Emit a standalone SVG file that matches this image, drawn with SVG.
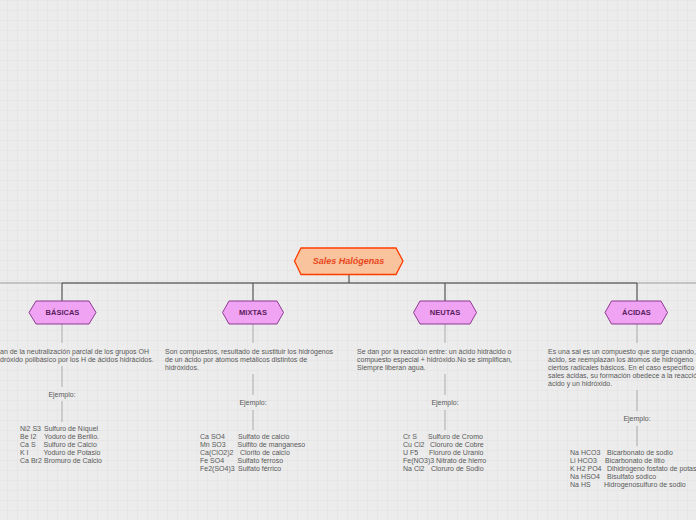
<svg xmlns="http://www.w3.org/2000/svg" width="696" height="520" viewBox="0 0 696 520">
<defs>
<pattern id="grid" width="10" height="10" patternUnits="userSpaceOnUse" x="7" y="0">
<path d="M0 0.5H10M0.5 0V10" fill="none" stroke="#e6e6e6" stroke-width="1"/>
</pattern>
<style>
.bg{fill:#ececec}
.main{fill:#f9c49d;stroke:#ff3c00;stroke-width:1.3}
.mainT{font-family:"Liberation Sans",Arial,sans-serif;font-size:9px;font-weight:bold;font-style:italic;fill:#e8461b;text-anchor:middle}
.br{fill:#f0a2f3;stroke:#8e3c91;stroke-width:1}
.brT{font-family:"Liberation Sans",Arial,sans-serif;font-size:7.5px;font-weight:bold;fill:#5a1c5c;text-anchor:middle}
.t{font-family:"Liberation Sans",Arial,sans-serif;font-size:7px;fill:#595959}
.c{text-anchor:middle}
.lk{stroke:#555;stroke-width:1.2;fill:none}
.lk2{stroke:#999;stroke-width:1.2;fill:none}
.sub{stroke:#aaa;stroke-width:1;fill:none}
</style>
</defs>
<rect class="bg" width="696" height="520"/>
<rect fill="url(#grid)" width="696" height="520"/>

<g id="connectors">
<path class="lk2" d="M0 283H696"/>
<path class="lk" d="M62 283H637M349 275V283M62 283V301M253 283V301M445 283V301M637 283V301"/>
<path class="sub" d="M62 324V343M62 366V387M62 401V422"/>
<path class="sub" d="M253 324V343M253 374V395M253 410V430"/>
<path class="sub" d="M445 324V343M445 374V395M445 410V430"/>
<path class="sub" d="M637 324V343M637 390V411M637 426V446"/>
</g>

<g id="node-sales-halogenas">
<polygon class="main" points="294.5,261 301,248 396,248 403,261 396,274.5 301,274.5"/>
<text class="mainT" x="348.5" y="264.3">Sales Halógenas</text>
</g>

<g id="node-basicas">
<polygon class="br" points="29,312.5 36,301 89,301 96,312.5 89,324 36,324"/>
<text class="brT" x="62.5" y="315.2">BÁSICAS</text>
</g>
<g id="node-mixtas">
<polygon class="br" points="222.5,312.5 229,301 277,301 283.5,312.5 277,324 229,324"/>
<text class="brT" x="253" y="315.2">MIXTAS</text>
</g>
<g id="node-neutas">
<polygon class="br" points="413.5,312.5 420,301 470,301 476.5,312.5 470,324 420,324"/>
<text class="brT" x="445" y="315.2">NEUTAS</text>
</g>
<g id="node-acidas">
<polygon class="br" points="605,312.5 611.5,301 661,301 667.5,312.5 661,324 611.5,324"/>
<text class="brT" x="636.5" y="315.2">ÁCIDAS</text>
</g>

<g id="desc-basicas" class="t">
<text x="0" y="353.5">an de la neutralización parcial de los grupos OH</text>
<text x="0" y="361.5">dróxido polibásico por los H de ácidos hidrácidos.</text>
</g>
<g id="ej-basicas"><text class="t c" x="62" y="396.5">Ejemplo:</text></g>
<g id="ex-basicas" class="t">
<text x="20" y="431">Ni2 S3 <tspan x="44">Sulfuro de Níquel</tspan></text>
<text x="20" y="439">Be I2 <tspan x="44">Yoduro de Berilio.</tspan></text>
<text x="20" y="447">Ca S <tspan x="43.5">Sulfuro de Calcio</tspan></text>
<text x="20" y="455">K I <tspan x="43.5">Yoduro de Potasio</tspan></text>
<text x="20" y="463">Ca Br2 <tspan x="44">Bromuro de Calcio</tspan></text>
</g>

<g id="desc-mixtas" class="t">
<text x="165" y="353.5">Son compuestos, resultado de sustituir los hidrógenos</text>
<text x="165" y="361.5">de un ácido por átomos metálicos distintos de</text>
<text x="165" y="369.5">hidróxidos.</text>
</g>
<g id="ej-mixtas"><text class="t c" x="253" y="405">Ejemplo:</text></g>
<g id="ex-mixtas" class="t">
<text x="200" y="439">Ca SO4 <tspan x="238">Sulfato de calcio</tspan></text>
<text x="200" y="447">Mn SO3 <tspan x="237.5">Sulfito de manganeso</tspan></text>
<text x="200" y="455">Ca(ClO2)2 <tspan x="240">Clorito de calcio</tspan></text>
<text x="200" y="463">Fe SO4 <tspan x="237.5">Sulfato ferroso</tspan></text>
<text x="200" y="471">Fe2(SO4)3 <tspan x="238">Sulfato férrico</tspan></text>
</g>

<g id="desc-neutas" class="t">
<text x="357" y="353.5">Se dan por la reacción entre: un ácido hidrácido o</text>
<text x="357" y="361.5">compuesto especial + hidróxido.No se simplifican,</text>
<text x="357" y="369.5">Siempre liberan agua.</text>
</g>
<g id="ej-neutas"><text class="t c" x="445" y="405">Ejemplo:</text></g>
<g id="ex-neutas" class="t">
<text x="403" y="439">Cr S <tspan x="428">Sulfuro de Cromo</tspan></text>
<text x="403" y="447">Cu Cl2 <tspan x="430">Cloruro de Cobre</tspan></text>
<text x="403" y="455">U F5 <tspan x="429">Floruro de Uranio</tspan></text>
<text x="403" y="463">Fe(NO3)3 Nitrato de hierro</text>
<text x="403" y="471">Na Cl2 <tspan x="431">Cloruro de Sodio</tspan></text>
</g>

<g id="desc-acidas" class="t">
<text x="548" y="353.5">Es una sal es un compuesto que surge cuando,</text>
<text x="548" y="361.5">ácido, se reemplazan los átomos de hidrógeno</text>
<text x="548" y="369.5">ciertos radicales básicos. En el caso específico</text>
<text x="548" y="377.5">sales ácidas, su formación obedece a la reacció</text>
<text x="548" y="385.5">ácido y un hidróxido.</text>
</g>
<g id="ej-acidas"><text class="t c" x="637" y="421">Ejemplo:</text></g>
<g id="ex-acidas" class="t">
<text x="570" y="455">Na HCO3 <tspan x="607">Bicarbonato de sodio</tspan></text>
<text x="570" y="463">Li HCO3 <tspan x="605">Bicarbonato de litio</tspan></text>
<text x="570" y="471">K H2 PO4 <tspan x="607">Dihidrógeno fosfato de potas</tspan></text>
<text x="570" y="479">Na HSO4 <tspan x="607">Bisulfato sódico</tspan></text>
<text x="570" y="487">Na HS <tspan x="604">Hidrogenosulfuro de sodio</tspan></text>
</g>
</svg>
